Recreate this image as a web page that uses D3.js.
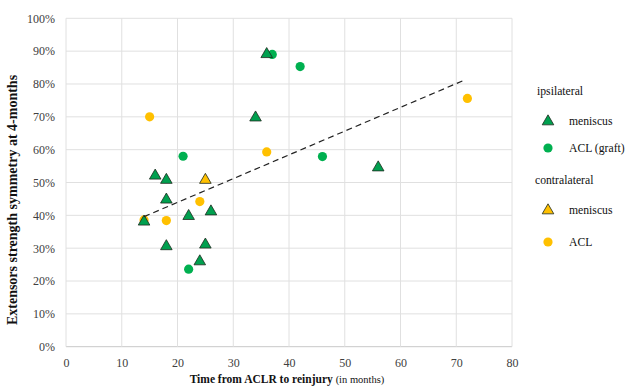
<!DOCTYPE html>
<html><head><meta charset="utf-8">
<script src="https://cdn.jsdelivr.net/npm/d3@7"></script>
<style>body{margin:0;background:#fff}svg{display:block}</style>
</head><body><svg id="c" width="626" height="387"></svg>
<script>
const xTicks = [0,10,20,30,40,50,60,70,80];
const yTicks = [0,0.1,0.2,0.3,0.4,0.5,0.6,0.7,0.8,0.9,1.0];
// ipsilateral meniscus [months, symmetry]
const ipsiMeniscus = [[36,0.893],[34,0.70],[16,0.523],[18,0.51],[18,0.45],[26,0.414],[22,0.40],[14,0.383],[18,0.308],[25,0.313],[24,0.262],[56,0.548]];
// ipsilateral ACL (graft)
const ipsiACL = [[37,0.89],[42,0.853],[21,0.58],[46,0.579],[22,0.236]];
// contralateral meniscus
const contraMeniscus = [[25,0.51]];
// contralateral ACL
const contraACL = [[15,0.70],[36,0.593],[24,0.442],[18,0.384],[72,0.756],[14,0.386]];
// trendline endpoints
const trend = [[14,0.396],[71.5,0.812]];
const legendGroups = ["ipsilateral","contralateral"];
const legendItems = [
  {group:0,label:"meniscus",shape:"tri",color:"#00A04F"},
  {group:0,label:"ACL (graft)",shape:"circ",color:"#00B050"},
  {group:1,label:"meniscus",shape:"tri",color:"#FFC000"},
  {group:1,label:"ACL",shape:"circ",color:"#FFC000"}
];
const FONT = '"Liberation Serif"';

const svg = d3.select("#c");
const L=66,R=512,T=18.3,B=346.7;
const x = d3.scaleLinear().domain([0,80]).range([L,R]);
const y = d3.scaleLinear().domain([0,1]).range([B,T]);

svg.append("g").selectAll("line").data(yTicks).join("line")
  .attr("x1",L).attr("x2",R).attr("y1",d=>y(d)).attr("y2",d=>y(d))
  .attr("stroke",d=>d===0?"#c8c8c8":"#e0e0e0").attr("stroke-width",1);
svg.append("g").selectAll("line").data(xTicks).join("line")
  .attr("y1",T).attr("y2",B).attr("x1",d=>x(d)).attr("x2",d=>x(d))
  .attr("stroke","#e0e0e0").attr("stroke-width",1);

const xAxis = svg.append("g").attr("transform",`translate(0,${B})`)
  .call(d3.axisBottom(x).tickValues(xTicks).tickSize(0).tickPadding(11.5));
xAxis.select(".domain").remove();
xAxis.selectAll("text").style("font-family",FONT).style("font-size","12px").attr("fill","#404040");
const yAxis = svg.append("g").attr("transform",`translate(${L},0)`)
  .call(d3.axisLeft(y).tickValues(yTicks).tickFormat(d3.format(".0%")).tickSize(0).tickPadding(11));
yAxis.select(".domain").remove();
yAxis.selectAll("text").style("font-family",FONT).style("font-size","12px").attr("fill","#404040");

svg.append("text").attr("transform",`translate(17,200) rotate(-90)`)
  .attr("text-anchor","middle").style("font-family",FONT).style("font-size","14px").style("font-weight","bold").attr("fill","#111")
  .text("Extensors strength symmetry at 4-months");
const xt = svg.append("text").attr("x",287).attr("y",383).attr("text-anchor","middle").attr("fill","#111").style("font-family",FONT);
xt.append("tspan").style("font-size","11.5px").style("font-weight","bold").text("Time from ACLR to reinjury ");
xt.append("tspan").style("font-size","10.5px").text("(in months)");

const tri = d3.symbol().type(d3.symbolTriangle).size(58);
function circles(data,color){
  svg.append("g").selectAll("circle").data(data).join("circle")
    .attr("cx",d=>x(d[0])).attr("cy",d=>y(d[1])).attr("r",4.6).attr("fill",color);
}
function triangles(data,color){
  svg.append("g").selectAll("path").data(data).join("path")
    .attr("d",tri).attr("transform",d=>`translate(${x(d[0])},${y(d[1])+0.8})`)
    .attr("fill",color).attr("stroke","#1e2a1e").attr("stroke-width",0.8);
}
circles(contraACL,"#FFC000");
circles(ipsiACL,"#00B050");
triangles(contraMeniscus,"#FFC000");
triangles(ipsiMeniscus,"#00A04F");

svg.append("path").datum(trend)
  .attr("d",d3.line().x(d=>x(d[0])).y(d=>y(d[1])))
  .attr("fill","none").attr("stroke","#222").attr("stroke-width",1.2).attr("stroke-dasharray","6,4");

const lg = svg.append("g");
const groupY = [95,184];
lg.selectAll("text.g").data(legendGroups).join("text").attr("class","g")
  .attr("x",(d,i)=>i===0?537:535).attr("y",(d,i)=>groupY[i])
  .style("font-family",FONT).style("font-size","11.7px").attr("fill","#111").text(d=>d);
const itemY = [121,148,210,242];
legendItems.forEach((it,i)=>{
  if(it.shape==="tri"){
    lg.append("path").attr("d",tri).attr("transform",`translate(548,${itemY[i]+0.5})`)
      .attr("fill",it.color).attr("stroke","#1e2a1e").attr("stroke-width",0.8);
  } else {
    lg.append("circle").attr("cx",548).attr("cy",itemY[i]).attr("r",4.6).attr("fill",it.color);
  }
  lg.append("text").attr("x",569).attr("y",itemY[i]+4)
    .style("font-family",FONT).style("font-size","11.7px").attr("fill","#111").text(it.label);
});
</script></body></html>
